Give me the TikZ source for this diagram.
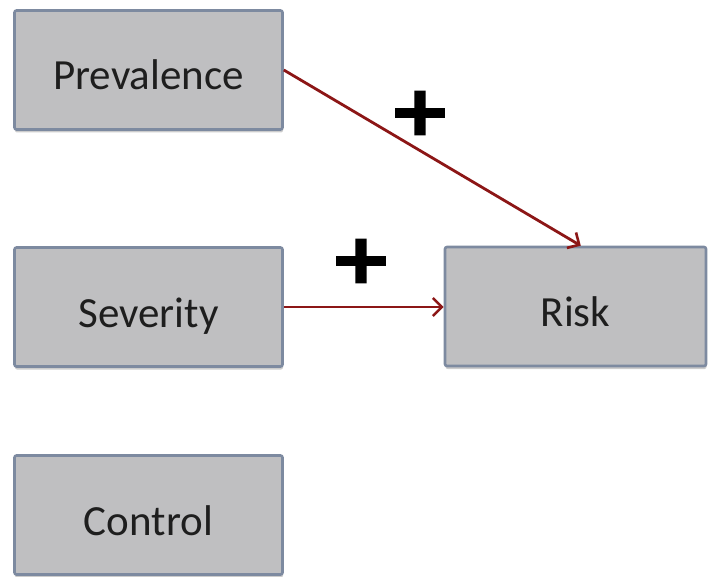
\documentclass[tikz,border=0pt]{standalone}
\usepackage{fontspec}
\setmainfont{Carlito}
\newfontfamily\plusfont[BoldFont={DejaVu Sans Bold},BoldFeatures={FakeBold=3}]{DejaVu Sans}
\usetikzlibrary{arrows.meta,shadows,calc}
\definecolor{boxfill}{RGB}{191,191,193}
\definecolor{boxline}{RGB}{125,138,160}
\definecolor{arrowred}{RGB}{140,22,22}
\definecolor{txt}{RGB}{30,30,30}
\tikzset{
  box/.style={draw=boxline, line width=2.6pt, fill=boxfill, rounded corners=2pt,
    minimum width=268pt, minimum height=119pt, inner sep=0pt,
    text height=40pt, text depth=0pt,
    font=\fontsize{43}{50}\selectfont, text=txt,
    drop shadow={opacity=0.4, shadow xshift=0.5pt, shadow yshift=-3pt, fill=gray}},
  link/.style={draw=arrowred, line width=2.8pt, -{Straight Barb[length=9pt,width=18pt,line width=2.6pt]}},
  plussign/.style={font=\plusfont\bfseries\fontsize{68}{68}\selectfont, text=black, inner sep=0pt, xscale=1.12}
}
\begin{document}
\begin{tikzpicture}[x=1pt,y=-1pt]
\useasboundingbox (0,0) rectangle (708,577);
\node[box] (prev) at (148.5,70) {Prevalence};
\node[box] (sev) at (148.5,307) {Severity};
\node[box] (ctrl) at (148.5,515) {Control};
\node[box, minimum width=261pt] (risk) at (575.5,306.5) {Risk};
\draw[link] (prev.east) -- ($(risk.north west)!0.52!(risk.north east)$);
\draw[link] (sev.east) -- (risk.west |- sev.east);
\node[plussign] (p1) at (420,113) {+};
\node[plussign] (p2) at (361,261) {+};
\end{tikzpicture}
\end{document}
